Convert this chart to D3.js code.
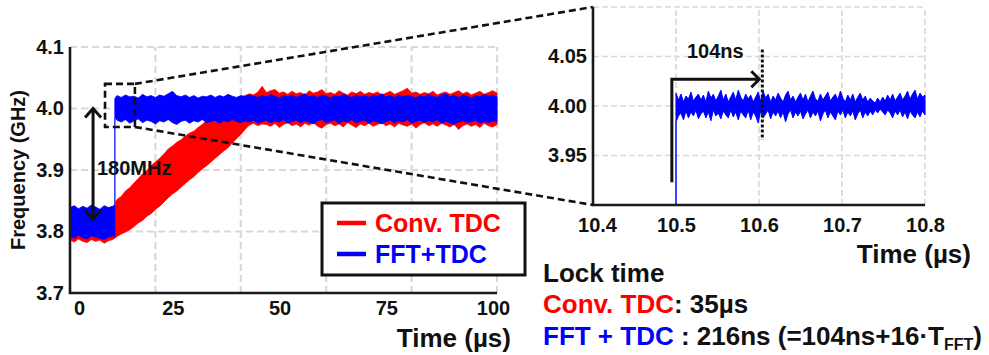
<!DOCTYPE html>
<html>
<head>
<meta charset="utf-8">
<script src="https://cdn.jsdelivr.net/npm/d3@7"></script>
<style>
  html, body { margin: 0; padding: 0; background: #fff; }
  svg { display: block; }
  text { font-family: "Liberation Sans", Arial, sans-serif; font-weight: bold; }
</style>
</head>
<body>
<svg id="chart" width="989" height="355"></svg>
<script>
// ---- Full transient (0 - 100 us), noise envelope of each trace ----
const convTime = [0,1,2,3,4,5,6,7,8,9,10,10.5,
  11,12,13,14,15,16,17,18,19,20,21,22,23,24,25,26,27,28,29,30,
  31,32,33,34,35,36,37,38,39,40,41,42,43,44,45,46,47,48,49,50,
  51,52,53,54,55,56,57,58,59,60,61,62,63,64,65,66,67,68,69,70,
  71,72,73,74,75,76,77,78,79,80,81,82,83,84,85,86,87,88,89,90,
  91,92,93,94,95,96,97,98,99,100];
const convHi = [3.830,3.828,3.832,3.829,3.831,3.833,3.830,3.828,3.834,3.831,3.833,3.846,
  3.852,3.857,3.866,3.871,3.879,3.886,3.894,3.899,3.907,3.913,3.919,3.926,3.934,3.939,3.945,3.949,3.955,3.960,3.963,3.969,
  3.974,3.981,3.986,3.991,3.997,4.002,4.006,4.011,4.016,4.019,4.021,4.024,4.022,4.027,4.036,4.026,4.029,4.031,4.025,4.027,
  4.023,4.028,4.024,4.026,4.022,4.029,4.025,4.027,4.031,4.024,4.026,4.023,4.029,4.025,4.022,4.027,4.024,4.028,4.023,4.026,
  4.024,4.027,4.022,4.025,4.028,4.023,4.026,4.029,4.033,4.025,4.027,4.023,4.026,4.024,4.028,4.022,4.025,4.027,4.023,4.026,
  4.029,4.024,4.027,4.022,4.025,4.028,4.023,4.026,4.029,4.025];
const convLo = [3.786,3.783,3.788,3.784,3.782,3.787,3.784,3.786,3.781,3.785,3.787,3.789,
  3.792,3.796,3.799,3.803,3.808,3.814,3.818,3.825,3.829,3.836,3.841,3.848,3.855,3.861,3.866,3.872,3.878,3.884,3.889,3.896,
  3.902,3.907,3.913,3.919,3.925,3.931,3.936,3.944,3.951,3.958,3.966,3.973,3.976,3.972,3.975,3.974,3.971,3.976,3.969,3.974,
  3.977,3.972,3.975,3.970,3.976,3.973,3.977,3.971,3.968,3.974,3.976,3.972,3.975,3.970,3.977,3.973,3.969,3.975,3.972,3.976,
  3.971,3.974,3.977,3.972,3.975,3.970,3.976,3.973,3.971,3.975,3.968,3.974,3.977,3.972,3.975,3.971,3.976,3.973,3.970,3.974,
  3.966,3.972,3.975,3.971,3.974,3.969,3.976,3.972,3.970,3.974];

// FFT+TDC trace: before the frequency step ...
const fftTimeA = [0,1,2,3,4,5,6,7,8,9,10,10.5];
const fftHiA = [3.839,3.842,3.837,3.841,3.838,3.843,3.840,3.836,3.842,3.839,3.841,3.843];
const fftLoA = [3.792,3.789,3.794,3.790,3.788,3.793,3.791,3.789,3.787,3.791,3.793,3.792];
// ... and after it
const fftTimeB = [10.5,
  11,12,13,14,15,16,17,18,19,20,21,22,23,24,25,26,27,28,29,30,
  31,32,33,34,35,36,37,38,39,40,41,42,43,44,45,46,47,48,49,50,
  51,52,53,54,55,56,57,58,59,60,61,62,63,64,65,66,67,68,69,70,
  71,72,73,74,75,76,77,78,79,80,81,82,83,84,85,86,87,88,89,90,
  91,92,93,94,95,96,97,98,99,100];
const fftHiB = [4.016,
  4.021,4.018,4.022,4.019,4.020,4.017,4.023,4.019,4.021,4.018,4.022,4.020,4.024,4.028,4.021,4.019,4.022,4.018,4.021,4.017,
  4.020,4.019,4.022,4.018,4.021,4.019,4.023,4.020,4.018,4.021,4.019,4.022,4.020,4.018,4.021,4.019,4.023,4.020,4.017,4.021,
  4.019,4.022,4.018,4.021,4.024,4.019,4.021,4.018,4.022,4.020,4.017,4.021,4.019,4.023,4.020,4.018,4.022,4.019,4.021,4.018,
  4.022,4.020,4.024,4.019,4.021,4.018,4.022,4.019,4.021,4.020,4.017,4.021,4.019,4.023,4.020,4.018,4.022,4.024,4.019,4.021,
  4.018,4.022,4.020,4.017,4.021,4.019,4.023,4.020,4.022,4.019];
const fftLoB = [3.985,
  3.981,3.978,3.982,3.976,3.980,3.983,3.977,3.981,3.979,3.975,3.980,3.978,3.982,3.977,3.974,3.979,3.981,3.976,3.980,3.978,
  3.982,3.977,3.979,3.981,3.976,3.980,3.978,3.982,3.979,3.977,3.980,3.978,3.981,3.976,3.979,3.981,3.977,3.980,3.978,3.982,
  3.976,3.979,3.981,3.977,3.980,3.978,3.975,3.980,3.982,3.977,3.979,3.981,3.976,3.980,3.978,3.982,3.977,3.979,3.981,3.976,
  3.980,3.978,3.975,3.979,3.981,3.977,3.980,3.978,3.982,3.976,3.979,3.981,3.977,3.980,3.978,3.982,3.976,3.979,3.977,3.974,
  3.978,3.980,3.977,3.979,3.981,3.976,3.979,3.977,3.980,3.978];

// ---- Zoom around the frequency step (10.4 - 10.8 us), noise envelope ----
const fineTime = [10.500,10.503,10.506,10.509,10.512,10.515,10.518,10.521,10.524,10.527,
  10.530,10.533,10.536,10.539,10.542,10.545,10.548,10.551,10.554,10.557,
  10.560,10.563,10.566,10.569,10.572,10.575,10.578,10.581,10.584,10.587,
  10.590,10.593,10.596,10.599,10.602,10.605,10.608,10.611,10.614,10.617,
  10.620,10.623,10.626,10.629,10.632,10.635,10.638,10.641,10.644,10.647,
  10.650,10.653,10.656,10.659,10.662,10.665,10.668,10.671,10.674,10.677,
  10.680,10.683,10.686,10.689,10.692,10.695,10.698,10.701,10.704,10.707,
  10.710,10.713,10.716,10.719,10.722,10.725,10.728,10.731,10.734,10.737,
  10.740,10.743,10.746,10.749,10.752,10.755,10.758,10.761,10.764,10.767,
  10.770,10.773,10.776,10.779,10.782,10.785,10.788,10.791,10.794,10.797,
  10.800];
const fineHi = [4.013,4.006,4.012,4.004,4.010,4.007,4.014,4.005,4.009,4.012,
  4.006,4.011,4.004,4.015,4.008,4.012,4.005,4.010,4.016,4.006,
  4.012,4.004,4.009,4.014,4.006,4.016,4.009,4.005,4.012,4.007,
  4.011,4.004,4.009,4.014,4.005,4.015,4.008,4.012,4.004,4.010,
  4.006,4.013,4.008,4.004,4.011,4.015,4.006,4.010,4.004,4.009,
  4.013,4.006,4.012,4.004,4.010,4.015,4.007,4.005,4.012,4.006,
  4.010,4.014,4.005,4.009,4.012,4.006,4.015,4.008,4.004,4.011,
  4.006,4.012,4.004,4.009,4.013,4.006,4.010,4.004,4.008,4.005,
  4.003,4.008,4.004,4.009,4.005,4.011,4.006,4.012,4.005,4.009,
  4.013,4.006,4.010,4.015,4.007,4.012,4.016,4.007,4.013,4.009,
  4.011];
const fineLo = [3.984,3.990,3.993,3.986,3.995,3.988,3.994,3.990,3.996,3.987,
  3.992,3.995,3.988,3.994,3.985,3.996,3.990,3.993,3.987,3.995,
  3.991,3.988,3.996,3.989,3.994,3.986,3.995,3.991,3.988,3.996,
  3.986,3.994,3.990,3.983,3.995,3.988,3.992,3.996,3.987,3.994,
  3.990,3.995,3.988,3.994,3.984,3.992,3.996,3.988,3.994,3.990,
  3.995,3.987,3.992,3.996,3.988,3.994,3.990,3.995,3.985,3.992,
  3.996,3.988,3.994,3.990,3.986,3.995,3.991,3.996,3.988,3.994,
  3.990,3.995,3.986,3.992,3.996,3.988,3.994,3.990,3.995,3.991,
  3.996,3.993,3.997,3.994,3.991,3.996,3.993,3.988,3.995,3.991,
  3.996,3.989,3.994,3.987,3.995,3.991,3.988,3.994,3.989,3.995,
  3.991];

// ---- Axis ticks and grid ----
const mainTicksX = [0, 25, 50, 75, 100];
const mainGridX = [20, 40, 60, 80, 100];
const mainTicksY = [3.7, 3.8, 3.9, 4.0, 4.1];
const mainGridY = [3.8, 3.9, 4.0, 4.1];
const zoomTicksX = [10.4, 10.5, 10.6, 10.7, 10.8];
const zoomGridX = [10.5, 10.6, 10.7, 10.8];
const zoomTicksY = [3.95, 4.00, 4.05];
const zoomGridY = [3.95, 4.00, 4.05, 4.1];

// annotation values
const stepTime = 10.5;          // frequency step instant (us)
const fftSettle = 0.104;        // 104 ns FFT settling
const freqStart = 3.82, freqEnd = 4.00;   // 180 MHz hop
const zoomBox = { t0: 8.2, t1: 15.2, f0: 3.97, f1: 4.04 };

const RED = "#ff0000", BLUE = "#0000ff", GRID = "#d9d9d9";

const svg = d3.select("#chart");

// scales
const xMain = d3.scaleLinear().domain([0, 100]).range([70, 497]);
const yMain = d3.scaleLinear().domain([3.7, 4.1]).range([293, 47]);
const xZoom = d3.scaleLinear().domain([10.4, 10.8]).range([593, 925]);
const yZoom = d3.scaleLinear().domain([3.9, 4.1]).range([205, 7]);

function grid(g, xs, ys, xVals, yVals, w, dash) {
  g.selectAll("line.gx").data(xVals).join("line").attr("class", "gx")
    .attr("x1", d => xs(d)).attr("x2", d => xs(d))
    .attr("y1", ys.range()[0]).attr("y2", ys.range()[1]);
  g.selectAll("line.gy").data(yVals).join("line").attr("class", "gy")
    .attr("y1", d => ys(d)).attr("y2", d => ys(d))
    .attr("x1", xs.range()[0]).attr("x2", xs.range()[1]);
  g.selectAll("line").attr("stroke", GRID).attr("stroke-width", w)
    .attr("stroke-dasharray", dash);
}

grid(svg.append("g"), xMain, yMain, mainGridX, mainGridY, 2.2, "7,4");
grid(svg.append("g"), xZoom, yZoom, zoomGridX, zoomGridY, 1.6, "6,3");

// ---- main plot traces ----
const band = d3.area()
  .x(d => xMain(d.t)).y0(d => yMain(d.lo)).y1(d => yMain(d.hi));

const convRows = convTime.map((t, i) => ({ t, hi: convHi[i], lo: convLo[i] }));
const fftRowsA = fftTimeA.map((t, i) => ({ t, hi: fftHiA[i], lo: fftLoA[i] }));
const fftRowsB = fftTimeB.map((t, i) => ({ t, hi: fftHiB[i], lo: fftLoB[i] }));

svg.append("path").datum(convRows).attr("d", band).attr("fill", RED)
  .attr("stroke", RED).attr("stroke-width", 0.8);
svg.append("path").datum(fftRowsA).attr("d", band).attr("fill", BLUE)
  .attr("stroke", BLUE).attr("stroke-width", 0.8);
svg.append("path").datum(fftRowsB).attr("d", band).attr("fill", BLUE)
  .attr("stroke", BLUE).attr("stroke-width", 0.8);
// fast jump of the FFT-assisted loop
svg.append("line")
  .attr("x1", xMain(stepTime)).attr("x2", xMain(stepTime))
  .attr("y1", yMain(fftHiA[fftHiA.length - 1])).attr("y2", yMain(fftLoB[0]))
  .attr("stroke", "#3344ff").attr("stroke-width", 1.6);

// ---- zoomed trace ----
const fineBand = d3.area()
  .x(d => xZoom(d.t)).y0(d => yZoom(d.lo)).y1(d => yZoom(d.hi));
svg.append("path").datum(fineTime.map((t, i) => ({ t, hi: fineHi[i], lo: fineLo[i] })))
  .attr("d", fineBand).attr("fill", BLUE).attr("stroke", BLUE).attr("stroke-width", 1);
svg.append("line")
  .attr("x1", xZoom(stepTime)).attr("x2", xZoom(stepTime))
  .attr("y1", yZoom.range()[0]).attr("y2", yZoom(fineLo[0]))
  .attr("stroke", "#2233ff").attr("stroke-width", 1.8);

// ---- axes ----
function axisLines(xs, ys) {
  svg.append("path")
    .attr("d", `M${xs.range()[0]},${ys.range()[1]}V${ys.range()[0]}H${xs.range()[1]}`)
    .attr("fill", "none").attr("stroke", "#1a1a1a").attr("stroke-width", 2.6);
}
axisLines(xMain, yMain);
axisLines(xZoom, yZoom);

function styleAxis(g) {
  g.select(".domain").remove();
  g.selectAll("text").attr("font-size", 20).attr("fill", "#111")
    .attr("font-family", "'Liberation Sans', Arial, sans-serif").attr("font-weight", "bold");
}

svg.append("g").attr("transform", `translate(0,${yMain.range()[0]})`)
  .call(d3.axisBottom(xMain).tickValues(mainTicksX).tickSize(0).tickPadding(8).tickFormat(d3.format("d")))
  .call(styleAxis)
  .selectAll("text").attr("dx", d => d === 0 ? 9 : -4);

svg.append("g").attr("transform", `translate(${xMain.range()[0]},0)`)
  .call(d3.axisLeft(yMain).tickValues(mainTicksY).tickSize(0).tickPadding(6).tickFormat(d3.format(".1f")))
  .call(styleAxis);

svg.append("g").attr("transform", `translate(0,${yZoom.range()[0]})`)
  .call(d3.axisBottom(xZoom).tickValues(zoomTicksX).tickSize(0).tickPadding(13).tickFormat(d3.format(".1f")))
  .call(styleAxis)
  .selectAll("text").attr("dx", d => d === 10.4 ? 4 : 0);

svg.append("g").attr("transform", `translate(${xZoom.range()[0]},0)`)
  .call(d3.axisLeft(yZoom).tickValues(zoomTicksY).tickSize(0).tickPadding(6).tickFormat(d3.format(".2f")))
  .call(styleAxis);

// axis titles
svg.append("text").attr("x", 511).attr("y", 347).attr("text-anchor", "end")
  .attr("font-size", 26).attr("fill", "#111").text("Time (µs)");
svg.append("text").attr("x", 971).attr("y", 263).attr("text-anchor", "end")
  .attr("font-size", 26).attr("fill", "#111").text("Time (µs)");
svg.append("text").attr("transform", "translate(25,170) rotate(-90)")
  .attr("text-anchor", "middle").attr("font-size", 20).attr("fill", "#111")
  .text("Frequency (GHz)");

// ---- zoom window and connector lines ----
const dashed = { stroke: "#111", "stroke-width": 2.6, "stroke-dasharray": "7,4", fill: "none" };
function applyAttrs(sel, o) { Object.entries(o).forEach(([k, v]) => sel.attr(k, v)); return sel; }

const bx0 = xMain(zoomBox.t0), bx1 = xMain(zoomBox.t1);
const by0 = yMain(zoomBox.f1), by1 = yMain(zoomBox.f0);
applyAttrs(svg.append("rect").attr("x", bx0).attr("y", by0)
  .attr("width", bx1 - bx0).attr("height", by1 - by0), dashed);
applyAttrs(svg.append("line").attr("x1", bx1).attr("y1", by0)
  .attr("x2", xZoom.range()[0]).attr("y2", yZoom.range()[1]), dashed);
applyAttrs(svg.append("line").attr("x1", bx1).attr("y1", by1)
  .attr("x2", xZoom.range()[0]).attr("y2", yZoom.range()[0]), dashed);

// ---- 180 MHz hop arrow ----
const ax = xMain(5.4), ayTop = yMain(freqEnd), ayBot = yMain(freqStart);
const arrow = { stroke: "#111", "stroke-width": 3, fill: "none" };
applyAttrs(svg.append("path").attr("d",
  `M${ax},${ayTop + 1}V${ayBot - 1}` +
  `M${ax - 8},${ayTop + 9}L${ax},${ayTop}L${ax + 8},${ayTop + 9}` +
  `M${ax - 8},${ayBot - 9}L${ax},${ayBot}L${ax + 8},${ayBot - 9}`), arrow);
svg.append("text").attr("x", 97).attr("y", 175).attr("font-size", 20)
  .attr("fill", "#111").text(`${Math.round((freqEnd - freqStart) * 1000)}MHz`);

// ---- 104 ns settling marker ----
const settleX = xZoom(stepTime + fftSettle);
const arX = xZoom(10.495), arY = yZoom(4.027);
applyAttrs(svg.append("path").attr("d",
  `M${arX},${yZoom(3.923)}V${arY}H${settleX - 3}` +
  `M${settleX - 11},${arY - 8}L${settleX - 3},${arY}L${settleX - 11},${arY + 8}`), arrow);
svg.append("line").attr("x1", settleX).attr("x2", settleX)
  .attr("y1", yZoom(4.057)).attr("y2", yZoom(3.966))
  .attr("stroke", "#111").attr("stroke-width", 3).attr("stroke-dasharray", "3,2");
svg.append("text").attr("x", 687).attr("y", 58).attr("font-size", 20)
  .attr("fill", "#111").text(`${Math.round(fftSettle * 1000)}ns`);

// ---- legend ----
const leg = svg.append("g");
leg.append("rect").attr("x", 322).attr("y", 203).attr("width", 203).attr("height", 72)
  .attr("fill", "#fff").attr("stroke", "#111").attr("stroke-width", 3);
const legItems = [{ name: "Conv. TDC", color: RED }, { name: "FFT+TDC", color: BLUE }];
legItems.forEach((d, i) => {
  const y = 223 + i * 31;
  leg.append("line").attr("x1", 337).attr("x2", 366).attr("y1", y).attr("y2", y)
    .attr("stroke", d.color).attr("stroke-width", 4.5);
  leg.append("text").attr("x", 375).attr("y", y + 9).attr("font-size", 25)
    .attr("fill", d.color).text(d.name);
});

// ---- lock-time summary ----
const info = svg.append("g").attr("font-size", 26).attr("fill", "#111");
info.append("text").attr("x", 543).attr("y", 282).text("Lock time");
const l2 = info.append("text").attr("x", 543).attr("y", 313);
l2.append("tspan").attr("fill", RED).text("Conv. TDC");
l2.append("tspan").text(": 35µs");
const l3 = info.append("text").attr("x", 543).attr("y", 345);
l3.append("tspan").attr("fill", BLUE).text("FFT + TDC");
l3.append("tspan").text(" : 216ns (=104ns+16·T");
l3.append("tspan").attr("font-size", 16).attr("dy", 5).text("FFT");
l3.append("tspan").attr("dy", -5).text(")");
</script>
</body>
</html>
